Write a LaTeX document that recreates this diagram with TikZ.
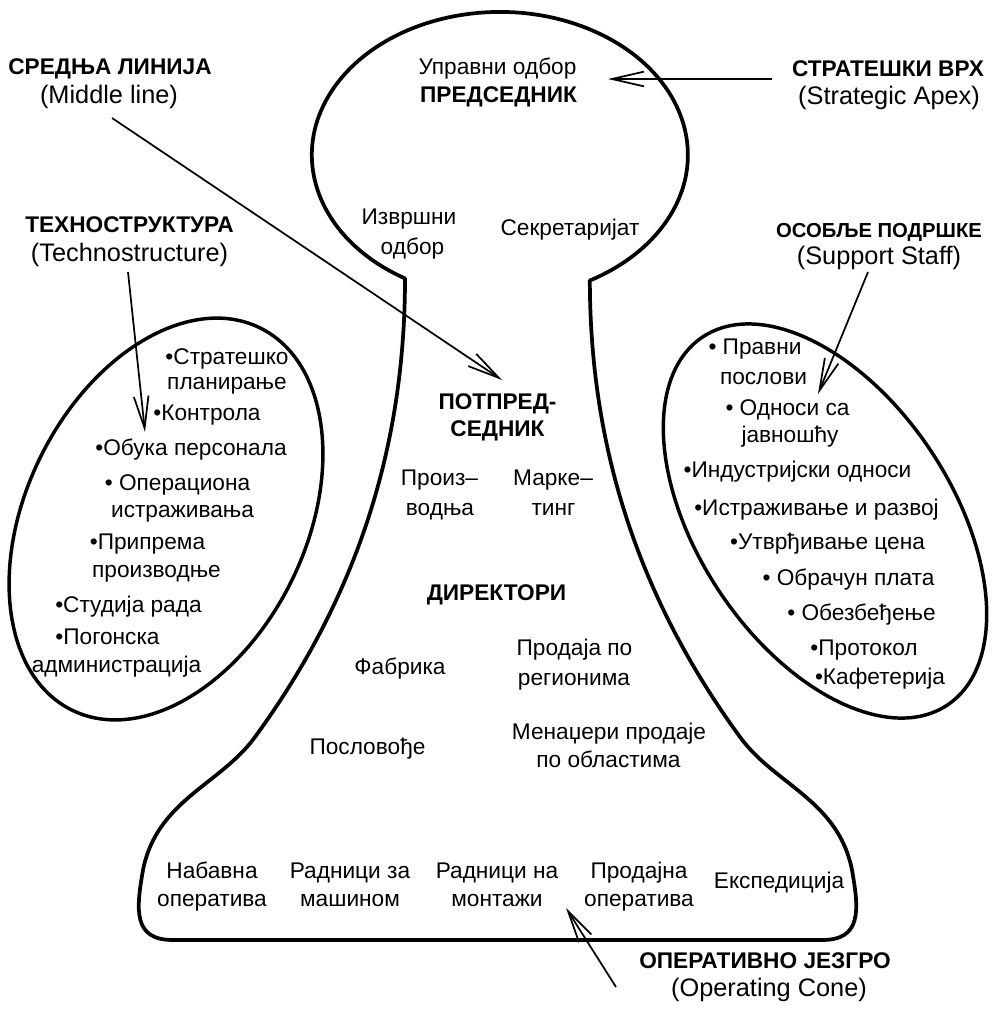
\documentclass[tikz,border=0pt]{standalone}
\usepackage{fontspec}
\setmainfont{Liberation Sans}
\usetikzlibrary{arrows.meta}
\begin{document}
\begin{tikzpicture}[x=0.75pt,y=-0.75pt,
  base/.style={inner sep=0pt, text height=11.5pt, text depth=0pt},
  txt/.style={base, font=\fontsize{17}{21}\selectfont},
  bld/.style={base, font=\fontsize{17}{21}\selectfont\bfseries},
  par/.style={base, text height=13pt, font=\fontsize{19}{23}\selectfont},
  outline/.style={line width=2.8pt, line join=round},
  oval/.style={line width=2.6pt},
  arr/.style={line width=1.3pt, -{Straight Barb[length=24pt,width=11pt]}}]
\useasboundingbox (0,0) rectangle (993,1010);

% main body outline
\draw[outline] (405,278.4)
  arc[start angle=120.3, end angle=421.4, x radius=188, y radius=143]
  .. controls (590,450) and (640,600) .. (740,737)
  .. controls (775,785) and (838,800) .. (852,870)
  .. controls (859,910) and (862,940) .. (822,940)
  -- (173,940)
  .. controls (133,940) and (136,910) .. (143,870)
  .. controls (157,800) and (220,785) .. (255,737)
  .. controls (355,600) and (405,450) .. cycle;

% side ellipses
\draw[oval, rotate around={63.8:(166,519)}] (166,519) ellipse [x radius=213, y radius=140];
\draw[oval, rotate around={123.6:(825,521)}] (825,521) ellipse [x radius=221, y radius=127];

% head
\node[txt] (uo) at (497.5,67) {Управни одбор};
\node[bld] (pred) at (498.5,95) {ПРЕДСЕДНИК};
\node[txt] (io1) at (409,217) {Извршни};
\node[txt] (io2) at (412.5,247) {одбор};
\node[txt] (sek) at (570,228) {Секретаријат};

% middle
\node[bld] (pp1) at (497.5,402) {ПОТПРЕД-};
\node[bld] (pp2) at (497.5,429) {СЕДНИК};
\node[txt] (pr1) at (439.5,478) {Произ–};
\node[txt] (pr2) at (440,508) {водња};
\node[txt] (mk1) at (553,478) {Марке–};
\node[txt] (mk2) at (553.5,508) {тинг};
\node[bld] (dir) at (496.5,593) {ДИРЕКТОРИ};
\node[txt] (fab) at (400,667) {Фабрика};
\node[txt] (reg1) at (574.5,648) {Продаја по};
\node[txt] (reg2) at (574,678) {регионима};
\node[txt] (pos) at (367.5,747) {Пословође};
\node[txt] (men1) at (609,732) {Менаџери продаје};
\node[txt] (men2) at (608.5,760) {по областима};

% base
\node[txt] (b11) at (212,871) {Набавна};
\node[txt] (b12) at (212,899) {оператива};
\node[txt] (b21) at (350,871) {Радници за};
\node[txt] (b22) at (350,899) {машином};
\node[txt] (b31) at (497,871) {Радници на};
\node[txt] (b32) at (497,899) {монтажи};
\node[txt] (b41) at (639,871) {Продајна};
\node[txt] (b42) at (639,899) {оператива};
\node[txt] (b5) at (779,881) {Експедиција};

% technostructure list
\node[txt] (t1) at (227,357) {•Стратешко};
\node[txt] (t2) at (227,382) {планирање};
\node[txt] (t3) at (207,413) {•Контрола};
\node[txt] (t4) at (191,448) {•Обука персонала};
\node[txt] (t5) at (177.5,483) {• Операциона};
\node[txt] (t6) at (182.5,510) {истраживања};
\node[txt] (t7) at (147.5,542) {•Припрема};
\node[txt] (t8) at (156.5,570) {производње};
\node[txt] (t9) at (128.5,605) {•Студија рада};
\node[txt] (t10) at (107.5,637) {•Погонска};
\node[txt] (t11) at (116.5,665) {администрација};

% support staff list
\node[txt] (s1) at (755,347) {• Правни};
\node[txt] (s2) at (763.5,377) {послови};
\node[txt] (s3) at (787.5,408) {• Односи са};
\node[txt] (s4) at (790,435) {јавношћу};
\node[txt] (s5) at (797.5,470) {•Индустријски односи};
\node[txt] (s6) at (816.5,508) {•Истраживање и развој};
\node[txt] (s7) at (827.5,542) {•Утврђивање цена};
\node[txt] (s8) at (848.5,578) {• Обрачун плата};
\node[txt] (s9) at (861.5,613) {• Обезбеђење};
\node[txt] (s10) at (864,648) {•Протокол};
\node[txt] (s11) at (880,677) {•Кафетерија};

% outer labels
\node[bld] (ml1) at (110,67) {СРЕДЊА ЛИНИЈА};
\node[par] (ml2) at (109,95) {(Middle line)};
\node[bld] (te1) at (129.5,225) {ТЕХНОСТРУКТУРА};
\node[par] (te2) at (129.5,253) {(Technostructure)};
\node[bld] (sa1) at (888,69) {СТРАТЕШКИ ВРХ};
\node[par] (sa2) at (889,96) {(Strategic Apex)};
\node[bld, font=\fontsize{15.2}{19}\selectfont\bfseries] (ss1) at (879,230) {ОСОБЉЕ ПОДРШКЕ};
\node[par] (ss2) at (879,256) {(Support Staff)};
\node[bld] (oc1) at (765,961) {ОПЕРАТИВНО ЈЕЗГРО};
\node[par] (oc2) at (769,988) {(Operating Cone)};

% arrow end points
\coordinate (mlS) at (112,118);
\coordinate (mlT) at (502,380);
\coordinate (teS) at (128,272);
\coordinate (teT) at (145,432);
\coordinate (saS) at (772,79);
\coordinate (saT) at (608,79);
\coordinate (ssS) at (868,272);
\coordinate (ssT) at (818,394);
\coordinate (ocS) at (616,987);
\coordinate (ocT) at (566,908);

\draw[arr] (mlS) -- (mlT);
\draw[arr] (teS) -- (teT);
\draw[arr] (saS) -- (saT);
\draw[arr] (ssS) -- (ssT);
\draw[arr] (ocS) -- (ocT);
\end{tikzpicture}
\end{document}
